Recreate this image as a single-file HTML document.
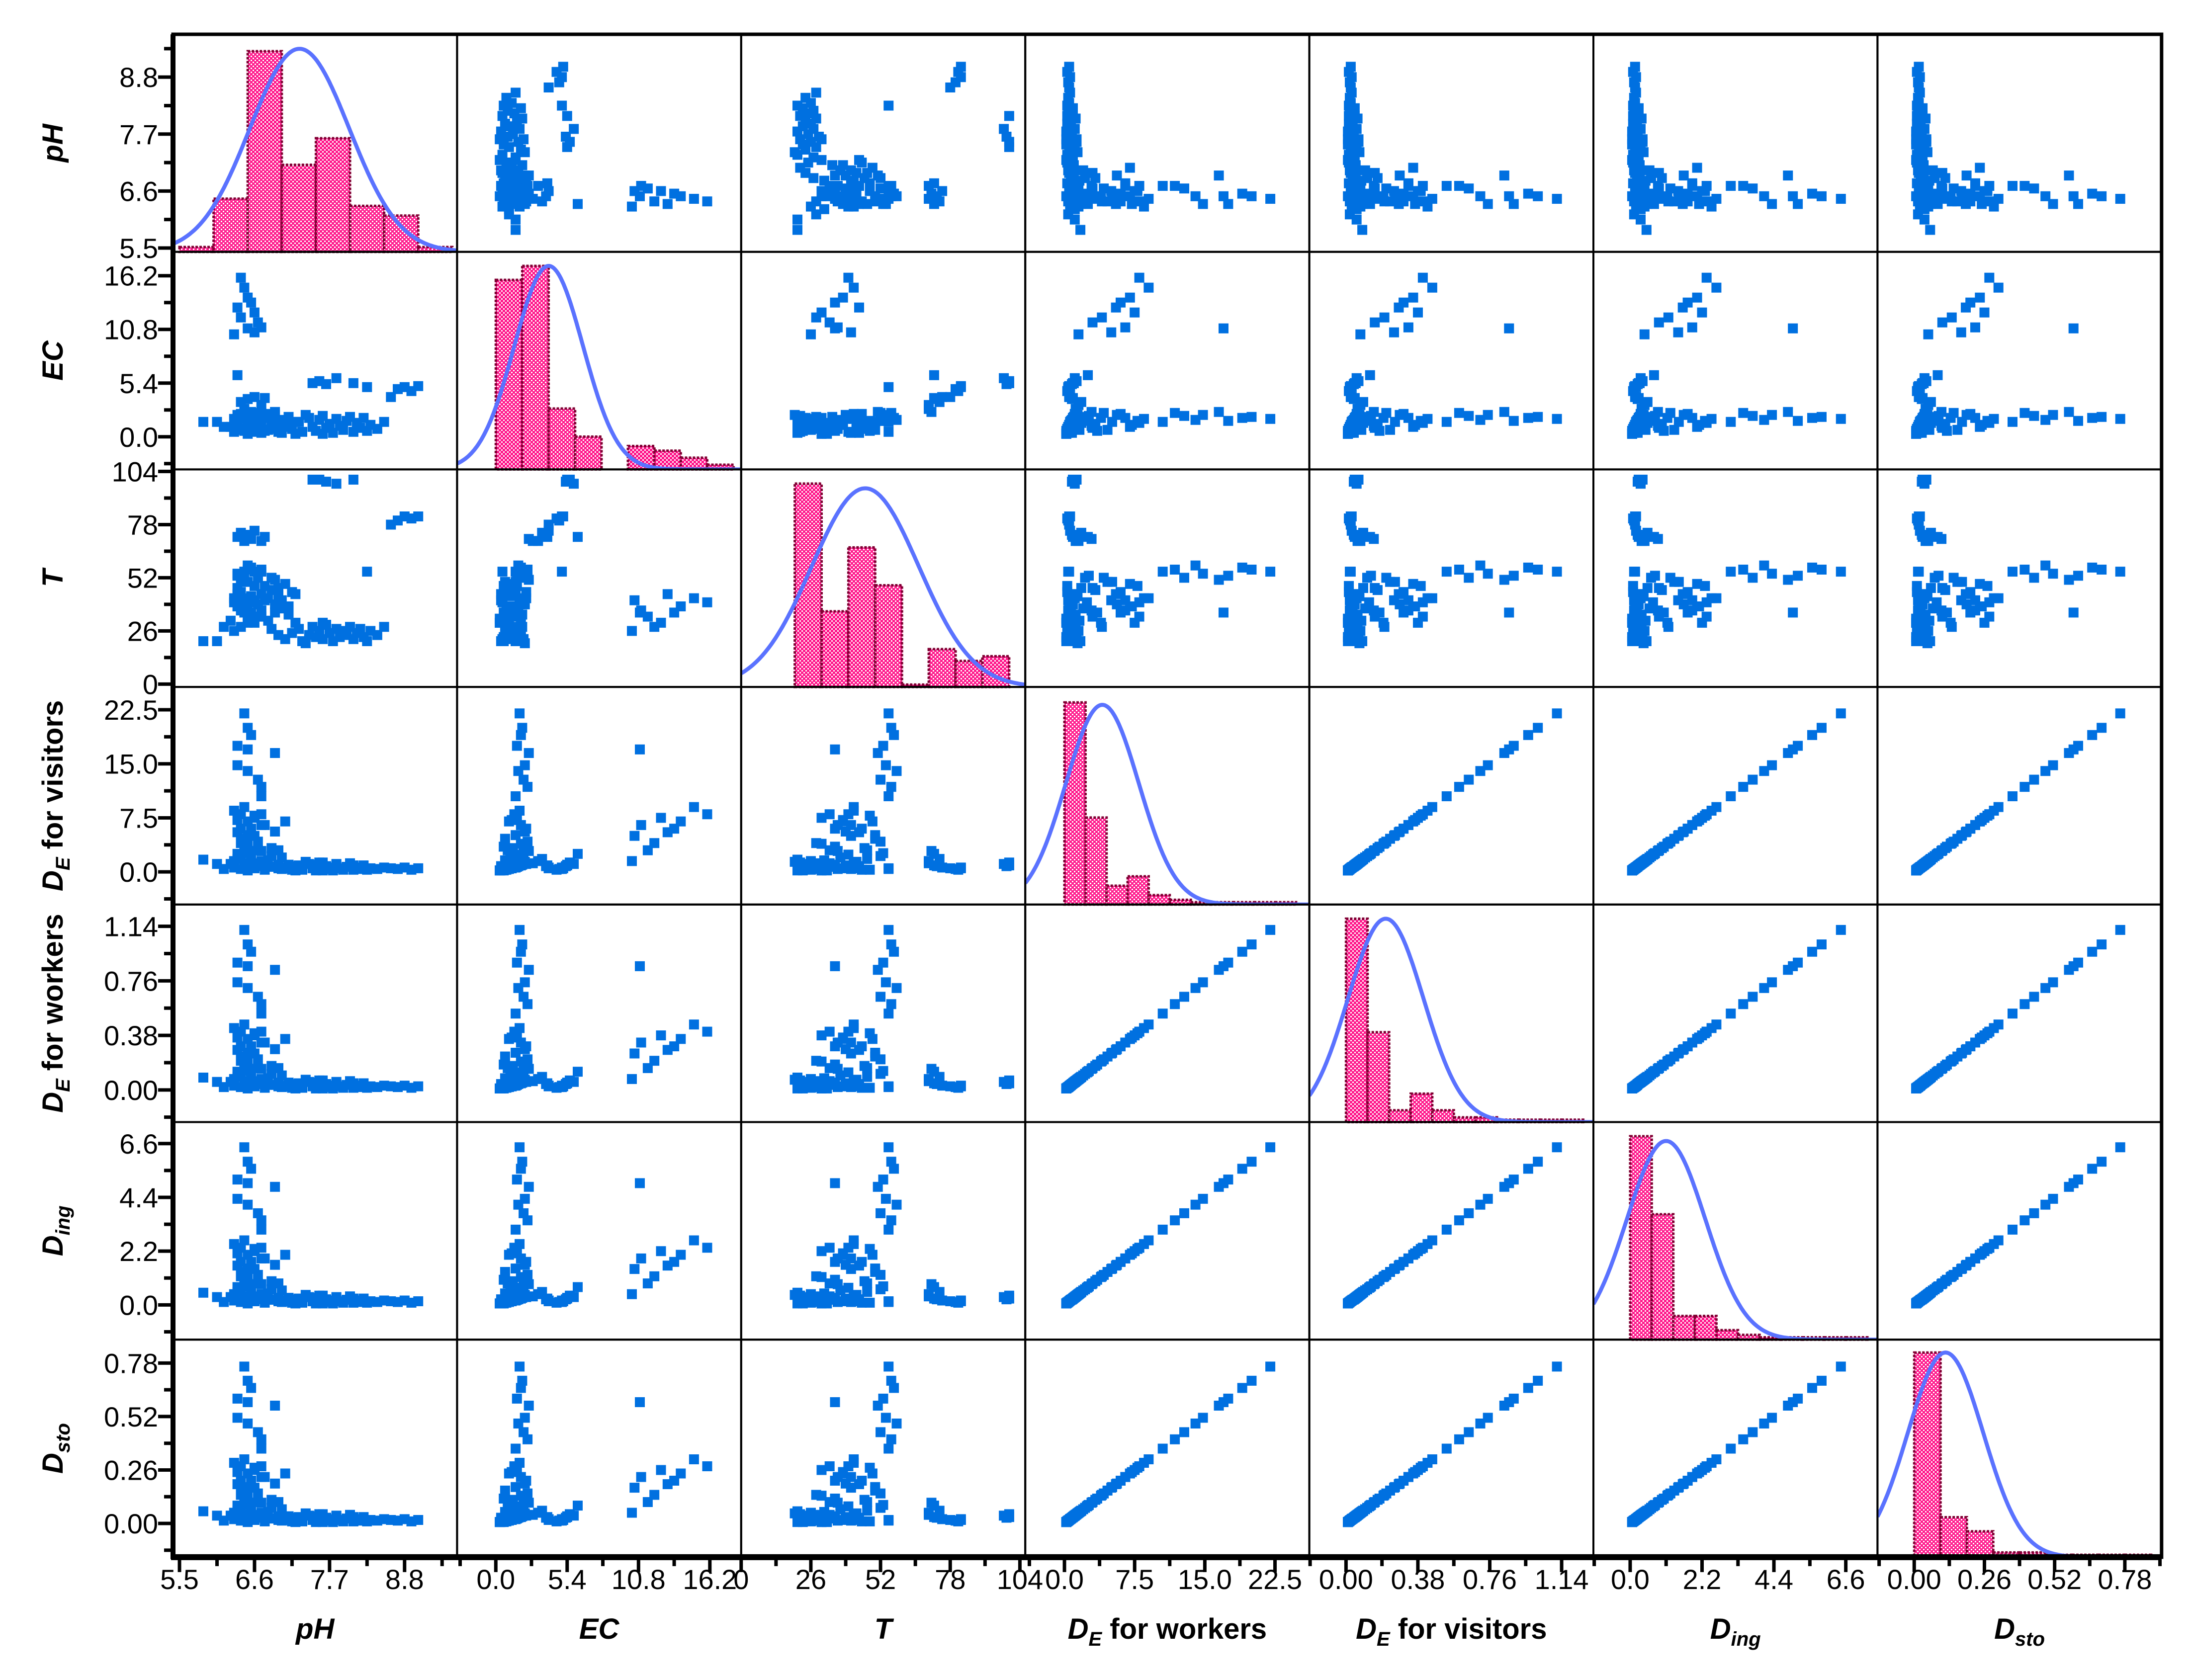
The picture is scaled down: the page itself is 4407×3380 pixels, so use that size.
<!DOCTYPE html>
<html><head><meta charset="utf-8">
<style>
html,body{margin:0;padding:0;background:#fff;}
svg{display:block;font-family:"Liberation Sans",Arial,sans-serif;}
</style></head>
<body>
<svg id="chart" xmlns="http://www.w3.org/2000/svg" width="4407" height="3380" viewBox="0 0 4407 3380">
<defs>
<pattern id="pinkcheck" width="8" height="8" patternUnits="userSpaceOnUse">
<rect width="8" height="8" fill="#ff1a8c"/>
<rect x="0" y="0" width="3" height="3" fill="#ffffff"/>
<rect x="4" y="4" width="3" height="3" fill="#ffffff"/>
</pattern>
</defs>
<rect x="0" y="0" width="4407" height="3380" fill="#fff"/>
<g id="layer"></g>
</svg>
<script>
// ---- data (one entry per sample) ----
const pH = [7.05,7.15,7.25,7.3,7.4,7.45,7.5,7.55,7.6,7.65,7.7,7.75,7.8,7.85,7.9,7.95,8.0,8.05,8.1,8.15,8.2,8.25,8.3,8.4,8.5,7.2,7.35,6.95,6.85,7.6,
6.3,6.35,6.4,6.45,6.5,6.55,6.6,6.6,6.65,6.7,6.7,6.75,6.8,6.85,6.9,6.95,7.0,7.05,7.1,7.15,6.3,6.35,6.4,6.45,6.5,6.55,6.65,6.75,6.8,6.9,7.0,7.2,6.25,6.6,6.85,7.1,6.5,6.4,6.7,6.95,
6.45,6.5,6.55,6.35,6.35,6.5,6.65,6.7,6.7,6.9,
6.4,6.45,6.5,6.55,6.35,6.6,6.4,6.65,6.5,6.7,6.6,6.3,
6.35,6.4,6.45,6.5,6.55,6.6,6.7,6.75,
7.45,7.55,7.65,7.8,8.05,
8.6,8.7,8.8,8.9,9.0,8.25,5.85,6.05,6.15];
const EC = [1.2,0.8,1.5,0.5,1.9,1.0,0.6,1.7,2.1,0.9,1.3,0.4,1.8,1.1,0.7,1.6,2.0,0.5,1.4,0.9,1.9,0.6,1.2,0.8,1.5,0.3,2.2,1.4,0.8,0.3,
1.8,1.2,2.3,0.6,1.5,2.0,0.9,1.6,2.4,0.4,1.1,1.9,0.7,1.3,2.2,0.5,1.7,1.0,2.0,0.8,0.5,1.4,0.8,2.1,0.3,1.2,1.8,0.6,2.3,1.0,0.4,1.5,1.0,0.5,1.6,1.2,1.9,0.7,1.4,0.9,
1.8,2.0,1.9,1.6,2.2,1.7,2.1,2.4,1.5,2.5,
16.0,15.0,14.0,13.5,13.0,12.5,12.0,11.5,10.9,11.0,10.5,10.3,
6.2,3.5,2.8,3.8,2.5,4.0,3.2,3.9,
5.4,5.6,5.3,5.9,5.4,
4.0,4.8,5.0,4.6,5.1,5.0,1.5,1.5,1.0];
const Temp = [22,25,27,21,24,28,23,26,22,29,25,21,27,23,26,24,28,22,25,27,23,21,26,24,28,30,20,24,27,30,
42,38,45,35,50,40,33,48,52,44,36,41,31,46,39,43,37,49,34,45,40,47,36,53,32,43,39,48,42,35,41,44,31,55,52,38,30,50,33,47,
55,56,57,53,54,58,52,56,55,51,
40,42,38,35,44,30,28,33,35,36,41,26,
72,74,70,73,71,75,70,72,
100,100,99,98,100,
78,80,82,81,82,55,21,21,28];
const DEvis = [0.6,0.4,0.9,0.3,1.1,0.5,0.2,0.8,1.3,0.4,0.6,0.2,1.0,0.5,0.3,0.7,1.2,0.3,0.6,0.4,0.9,0.3,0.5,0.4,0.6,0.2,1.4,1.0,0.7,0.2,
8.5,7.2,6.0,3.5,5.1,2.4,1.2,7.8,4.2,0.8,2.9,6.5,1.6,3.3,5.6,0.5,2.0,7.0,1.0,0.3,0.6,1.8,0.4,2.6,0.2,1.4,0.9,0.3,1.1,0.7,0.4,0.8,1.1,0.5,2.2,0.5,3.9,4.6,8.0,3.0,
22.0,20.0,19.0,17.5,14.8,14.0,12.8,11.8,10.5,16.5,
8.0,9.0,7.0,6.0,5.5,7.5,4.0,3.0,17.0,6.5,5.0,1.5,
2.5,1.8,1.2,0.8,2.9,0.6,1.5,0.9,
1.0,1.3,0.8,1.1,0.9,
0.5,0.4,0.6,0.3,0.5,0.4,1.7,1.1,0.4];
const DEwork = [0.030,0.020,0.046,0.015,0.056,0.025,0.010,0.041,0.066,0.020,0.030,0.010,0.051,0.025,0.015,0.035,0.061,0.015,0.030,0.020,0.046,0.015,0.025,0.020,0.030,0.010,0.071,0.051,0.035,0.010,
0.431,0.365,0.304,0.177,0.259,0.122,0.061,0.395,0.213,0.041,0.147,0.330,0.081,0.167,0.284,0.025,0.101,0.355,0.051,0.015,0.030,0.091,0.020,0.132,0.010,0.071,0.046,0.015,0.056,0.035,0.020,0.041,0.056,0.025,0.112,0.025,0.198,0.233,0.406,0.152,
1.115,1.014,0.963,0.887,0.750,0.710,0.649,0.598,0.532,0.837,
0.406,0.456,0.355,0.304,0.279,0.380,0.203,0.152,0.862,0.330,0.254,0.076,
0.127,0.091,0.061,0.041,0.147,0.030,0.076,0.046,
0.051,0.066,0.041,0.056,0.046,
0.025,0.020,0.030,0.015,0.025,0.020,0.086,0.056,0.020];
const Ding = [0.18,0.12,0.26,0.09,0.32,0.15,0.06,0.23,0.38,0.12,0.18,0.06,0.29,0.15,0.09,0.21,0.35,0.09,0.18,0.12,0.26,0.09,0.15,0.12,0.18,0.06,0.41,0.29,0.21,0.06,
2.49,2.11,1.76,1.03,1.49,0.70,0.35,2.29,1.23,0.23,0.85,1.90,0.47,0.97,1.64,0.15,0.59,2.05,0.29,0.09,0.18,0.53,0.12,0.76,0.06,0.41,0.26,0.09,0.32,0.21,0.12,0.23,0.32,0.15,0.64,0.15,1.14,1.35,2.34,0.88,
6.45,5.86,5.57,5.13,4.34,4.10,3.75,3.46,3.08,4.83,
2.34,2.64,2.05,1.76,1.61,2.20,1.17,0.88,4.98,1.90,1.47,0.44,
0.73,0.53,0.35,0.23,0.85,0.18,0.44,0.26,
0.29,0.38,0.23,0.32,0.26,
0.15,0.12,0.18,0.09,0.15,0.12,0.50,0.32,0.12];
const Dsto = [0.021,0.014,0.031,0.010,0.038,0.017,0.007,0.028,0.045,0.014,0.021,0.007,0.035,0.017,0.010,0.024,0.042,0.010,0.021,0.014,0.031,0.010,0.017,0.014,0.021,0.007,0.049,0.035,0.024,0.007,
0.295,0.250,0.208,0.121,0.177,0.083,0.042,0.271,0.146,0.028,0.101,0.226,0.056,0.115,0.194,0.017,0.069,0.243,0.035,0.010,0.021,0.062,0.014,0.090,0.007,0.049,0.031,0.010,0.038,0.024,0.014,0.028,0.038,0.017,0.076,0.017,0.135,0.160,0.278,0.104,
0.763,0.694,0.659,0.607,0.514,0.486,0.444,0.409,0.364,0.573,
0.278,0.312,0.243,0.208,0.191,0.260,0.139,0.104,0.590,0.226,0.174,0.052,
0.087,0.062,0.042,0.028,0.101,0.021,0.052,0.031,
0.035,0.045,0.028,0.038,0.031,
0.017,0.014,0.021,0.010,0.017,0.014,0.059,0.038,0.014];

// ---- histograms (diagonal) ----
const histStart = [5.5, 0, 20, 0, 0, 0, 0];
const histWidth = [0.5, 2, 10, 2.25, 0.114, 0.66, 0.0975];
const histPH = [2,22,83,36,47,19,15,2];
const histEC = [81,87,26,14,0,10,8,5,2];
const histT = [86,32,59,43,1,16,11,13];
const histDEvis = [86,37,8,12,4,2,1,1,1,1,1];
const histDEwork = [86,38,5,12,5,2,2,1,1,1,1];
const histDing = [86,53,10,10,4,2,1,1,1,1,1];
const histDsto = [87,17,11,2,2,1,1,1,1];
const histYMax = [90, 93, 92, 92.6, 92, 92, 92.5];
const normMean = [7.26, 4.0, 46.3, 4.05, 0.21, 1.1, 0.116];
const normSd = [0.73, 2.6, 20, 3.9, 0.2, 1.2, 0.14];
const normPeak = [84, 87, 84, 85, 86, 84, 87];

// ---- ticks ----
const tickVals = [[5.5,6.6,7.7,8.8],[0,5.4,10.8,16.2],[0,26,52,78,104],[0,7.5,15,22.5],[0,0.38,0.76,1.14],[0,2.2,4.4,6.6],[0,0.26,0.52,0.78]];
const tickLabels = [["5.5","6.6","7.7","8.8"],["0.0","5.4","10.8","16.2"],["0","26","52","78","104"],["0.0","7.5","15.0","22.5"],["0.00","0.38","0.76","1.14"],["0.0","2.2","4.4","6.6"],["0.00","0.26","0.52","0.78"]];

// axis ranges (layout)
const xMin = [5.405,-2.93,0,-4.19,-0.194,-1.125,-0.136];
const xMax = [9.57,18.57,106,26.17,1.308,7.57,0.916];
const yMin = [5.426,-3.28,-1.4,-4.53,-0.224,-1.42,-0.164];
const yMax = [9.627,18.6,105,25.67,1.292,7.48,0.894];

const vars = [pH, EC, Temp, DEvis, DEwork, Ding, Dsto];
const hists = [histPH, histEC, histT, histDEvis, histDEwork, histDing, histDsto];
const varKeys = ["ph","ec","t","de-visitors","de-workers","d-ing","d-sto"];

const L = 348, T0 = 69, CW = 571.4, RH = 437.7, N = 7, MS = 20;
const NS = "http://www.w3.org/2000/svg";
const layer = document.getElementById('layer');
function mk(tag, attrs, parent){
  const e = document.createElementNS(NS, tag);
  for (const k in attrs) e.setAttribute(k, attrs[k]);
  (parent||layer).appendChild(e);
  return e;
}
function xs(c, v){ return L + c*CW + (v - xMin[c])/(xMax[c]-xMin[c])*CW; }
function ys(r, v){ return T0 + (r+1)*RH - (v - yMin[r])/(yMax[r]-yMin[r])*RH; }
function hy(r, cnt){ return T0 + (r+1)*RH - cnt/histYMax[r]*RH; }

const defs = document.querySelector('defs');
for (let i=0;i<N;i++){
  const cp = mk('clipPath', {id:'clip'+i}, defs);
  mk('rect', {x:L+i*CW, y:T0+i*RH, width:CW, height:RH}, cp);
}

for (let r=0;r<N;r++){
  for (let c=0;c<N;c++){
    const g = mk('g', {});
    
    
    if (r === c){
      const counts = hists[r];
      for (let k=0;k<counts.length;k++){
        if (counts[k] <= 0) continue;
        const x0 = xs(c, histStart[c] + k*histWidth[c]);
        const x1 = xs(c, histStart[c] + (k+1)*histWidth[c]);
        const y0 = hy(r, counts[k]);
        const b = mk('rect', {x:x0, y:y0, width:x1-x0, height:T0+(r+1)*RH-y0, fill:'url(#pinkcheck)', stroke:'#800033', 'stroke-width':5, 'stroke-dasharray':'5 3'}, g);
        
        
      }
      let d = '';
      for (let s=0;s<=200;s++){
        const v = xMin[c] + (xMax[c]-xMin[c])*s/200;
        const z = (v - normMean[c])/normSd[c];
        const cnt = normPeak[c]*Math.exp(-0.5*z*z);
        d += (s?'L':'M') + xs(c,v).toFixed(1) + ' ' + hy(r,cnt).toFixed(1);
      }
      const p = mk('path', {d:d, fill:'none', stroke:'#5a72ff', 'stroke-width':8, 'clip-path':'url(#clip'+r+')'}, g);
      
      
    } else {
      const xv = vars[c], yv = vars[r];
      for (let i=0;i<xv.length;i++){
        const px = xs(c, xv[i]), py = ys(r, yv[i]);
        const m = mk('rect', {x:(px-MS/2).toFixed(1), y:(py-MS/2).toFixed(1), width:MS, height:MS, fill:'#0070e0'}, g);
        
        
      }
    }
    const fr = mk('rect', {x:L+c*CW, y:T0+r*RH, width:CW, height:RH, fill:'none', stroke:'#000', 'stroke-width':4}, g);
    
    
  }
}
const of = mk('rect', {x:L, y:T0, width:CW*N, height:RH*N, fill:'none', stroke:'#000', 'stroke-width':7});


const axl = mk('line', {x1:L, y1:T0, x2:L, y2:T0+RH*N+4, stroke:'#000', 'stroke-width':10});


const axb = mk('line', {x1:L-4, y1:T0+RH*N, x2:L+CW*N, y2:T0+RH*N, stroke:'#000', 'stroke-width':12});



const bottomY = T0 + RH*N;
for (let k=0;k<N;k++){
  const tv = tickVals[k];
  const step = tv[1]-tv[0];
  for (let v = tv[0] - step; v <= xMax[k] + 1e-9; v += step/2){
    if (v < xMin[k] - 1e-9) continue;
    const px = xs(k, v);
    const major = tv.some(t => Math.abs(t - v) < step*0.01);
    const t = mk('line', {x1:px, y1:bottomY, x2:px, y2:bottomY + (major?30:18), stroke:'#000', 'stroke-width':7});
    
    
  }
  for (let j=0;j<tv.length;j++){
    const tx = mk('text', {x:xs(k, tv[j]), y:3197, 'font-size':56, 'text-anchor':'middle', fill:'#000'});
    tx.textContent = tickLabels[k][j];
    
    
  }
  for (let v = tv[0] - step; v <= yMax[k] + 1e-9; v += step/2){
    if (v < yMin[k] - 1e-9) continue;
    const py = ys(k, v);
    const major = tv.some(t => Math.abs(t - v) < step*0.01);
    const t = mk('line', {x1:L - (major?30:18), y1:py, x2:L, y2:py, stroke:'#000', 'stroke-width':7});
    
    
  }
  for (let j=0;j<tv.length;j++){
    const ty = mk('text', {x:318, y:ys(k, tv[j]) + 20, 'font-size':56, 'text-anchor':'end', fill:'#000'});
    ty.textContent = tickLabels[k][j];
    
    
  }
}

const xTitles = [
  ['pH', null, ''], ['EC', null, ''], ['T', null, ''],
  ['D', 'E', ' for workers'], ['D', 'E', ' for visitors'], ['D', 'ing', ''], ['D', 'sto', '']
];
const yTitles = [
  ['pH', null, ''], ['EC', null, ''], ['T', null, ''],
  ['D', 'E', ' for visitors'], ['D', 'E', ' for workers'], ['D', 'ing', ''], ['D', 'sto', '']
];
function titleText(spec, attrs, name){
  const t = mk('text', attrs);
  
  
  const a = mk('tspan', {'font-style':'italic'}, t);
  a.textContent = spec[0];
  if (spec[1]){
    const s = mk('tspan', {'font-size':40, dy:14, 'font-style':'italic'}, t);
    s.textContent = spec[1];
    if (spec[2]){
      const rest = mk('tspan', {dy:-14}, t);
      rest.textContent = spec[2];
    }
  }
  return t;
}
for (let k=0;k<N;k++){
  titleText(xTitles[k], {x:L + (k+0.5)*CW, y:3297, 'font-size':58, 'font-weight':'bold', 'text-anchor':'middle', fill:'#000'}, 'x-axis-title-' + varKeys[k]);
  const cy = T0 + (k+0.5)*RH;
  titleText(yTitles[k], {x:0, y:0, 'font-size':58, 'font-weight':'bold', 'text-anchor':'middle', fill:'#000', transform:'translate(126,' + cy + ') rotate(-90)'}, 'y-axis-title-' + varKeys[k]);
}
</script>
</body></html>
